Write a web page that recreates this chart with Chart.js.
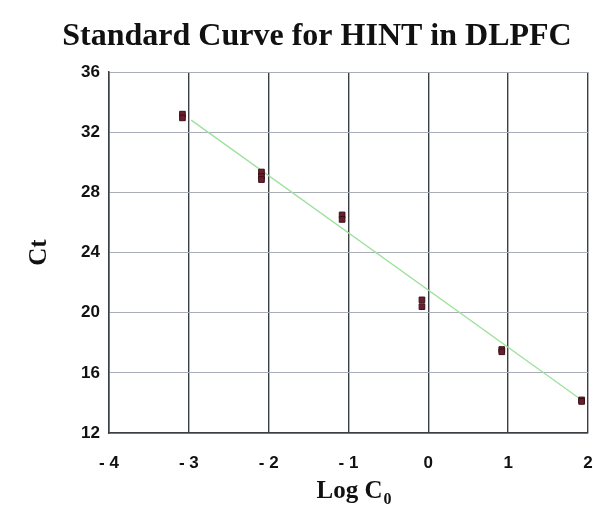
<!DOCTYPE html>
<html>
<head>
<meta charset="utf-8">
<script src="https://cdn.jsdelivr.net/npm/chart.js@4"></script>
<style>
  html, body { margin: 0; padding: 0; background: #fff; }
  #wrap { width: 593px; height: 508px; }
</style>
</head>
<body>
<div id="wrap"><canvas id="stdCurve" width="593" height="508"></canvas></div>
<script>
// dane (Log C0 vs Ct, replikaty)
const logC0 = [-3.08, -3.08, -2.09, -2.09, -2.09, -1.08, -1.08, -0.08, -0.08, 0.92, 0.92, 1.92, 1.92];
const ctValues = [33.2, 32.95, 29.35, 29.05, 28.85, 26.5, 26.2, 20.85, 20.4, 17.55, 17.4, 14.2, 14.1];

// linia dopasowania (poczatek i koniec)
const fitX = [-2.97, 1.92];
const fitY = [32.8, 14.2];

const xTicks = [-4, -3, -2, -1, 0, 1, 2];
const yTicks = [12, 16, 20, 24, 28, 32, 36];

const chartTitle = 'Standard Curve for HINT in DLPFC';
const yTitle = 'Ct';
const xTitleMain = 'Log C';
const xTitleSub = '0';

const pointData = logC0.map((x, i) => ({ x: x, y: ctValues[i] }));
const lineData = fitX.map((x, i) => ({ x: x, y: fitY[i] }));

// tytul i podpis osi X (z indeksem dolnym) rysowane recznie
const textPlugin = {
    id: 'textPlugin',
    afterDraw(chart) {
        const ctx = chart.ctx;
        ctx.save();
        ctx.fillStyle = '#111';
        ctx.textBaseline = 'alphabetic';
        ctx.font = 'bold 32px "Liberation Serif", "Times New Roman", serif';
        ctx.textAlign = 'center';
        ctx.fillText(chartTitle, 317, 45);

        ctx.textAlign = 'left';
        ctx.font = 'bold 25px "Liberation Serif", "Times New Roman", serif';
        const w1 = ctx.measureText(xTitleMain).width;
        ctx.font = 'bold 16px "Liberation Serif", "Times New Roman", serif';
        const w2 = ctx.measureText(xTitleSub).width;
        const cx = (chart.chartArea.left + chart.chartArea.right) / 2 + 5;
        const x0 = cx - (w1 + w2) / 2;
        ctx.font = 'bold 25px "Liberation Serif", "Times New Roman", serif';
        ctx.fillText(xTitleMain, x0, 498);
        ctx.font = 'bold 16px "Liberation Serif", "Times New Roman", serif';
        ctx.fillText(xTitleSub, x0 + w1 + 1, 504);
        ctx.restore();
    }
};

const ctx = document.getElementById('stdCurve').getContext('2d');

const stdCurveChart = new Chart(ctx, {
    type: 'scatter',
    data: {
        datasets: [{
            label: 'Ct',
            data: pointData,
            pointStyle: 'rect',
            pointRadius: 4,
            backgroundColor: '#6b1f2c',
            borderColor: '#3a1018',
            borderWidth: 1,
            showLine: false
        }, {
            label: 'fit',
            data: lineData,
            showLine: true,
            pointRadius: 0,
            borderColor: '#9ee09e',
            borderWidth: 1.3,
            fill: false
        }]
    },
    options: {
        responsive: false,
        animation: false,
        layout: { padding: { top: 72, right: 2, left: 0, bottom: 0 } },
        plugins: {
            legend: { display: false },
            tooltip: { enabled: false },
            title: { display: false }
        },
        scales: {
            x: {
                type: 'linear',
                min: -4,
                max: 2,
                afterBuildTicks: (scale) => { scale.ticks = xTicks.map(v => ({ value: v })); },
                afterFit: (scale) => {
                    scale.height = 75;
                    scale.paddingRight = 4;
                    scale.paddingLeft = 0;
                },
                ticks: {
                    padding: 20,
                    color: '#111',
                    font: { family: '"Liberation Sans", Arial, sans-serif', size: 17, weight: 'bold' },
                    callback: (v) => v < 0 ? '- ' + Math.abs(v) : String(v)
                },
                grid: { color: '#3a3f44', lineWidth: 1.4, drawTicks: false },
                border: { color: '#3a3f44', width: 1.5 }
            },
            y: {
                type: 'linear',
                min: 12,
                max: 36,
                afterBuildTicks: (scale) => { scale.ticks = yTicks.map(v => ({ value: v })); },
                afterFit: (scale) => { scale.width = 109; },
                ticks: {
                    padding: 9,
                    color: '#111',
                    font: { family: '"Liberation Sans", Arial, sans-serif', size: 17, weight: 'bold' }
                },
                title: {
                    display: true,
                    text: yTitle,
                    color: '#111',
                    padding: { top: 25, bottom: 0 },
                    font: { family: '"Liberation Serif", "Times New Roman", serif', size: 25, weight: 'bold' }
                },
                grid: { color: '#a9adb8', lineWidth: 1, drawTicks: false },
                border: { color: '#3a3f44', width: 1.5 }
            }
        }
    },
    plugins: [textPlugin]
});
</script>
</body>
</html>
